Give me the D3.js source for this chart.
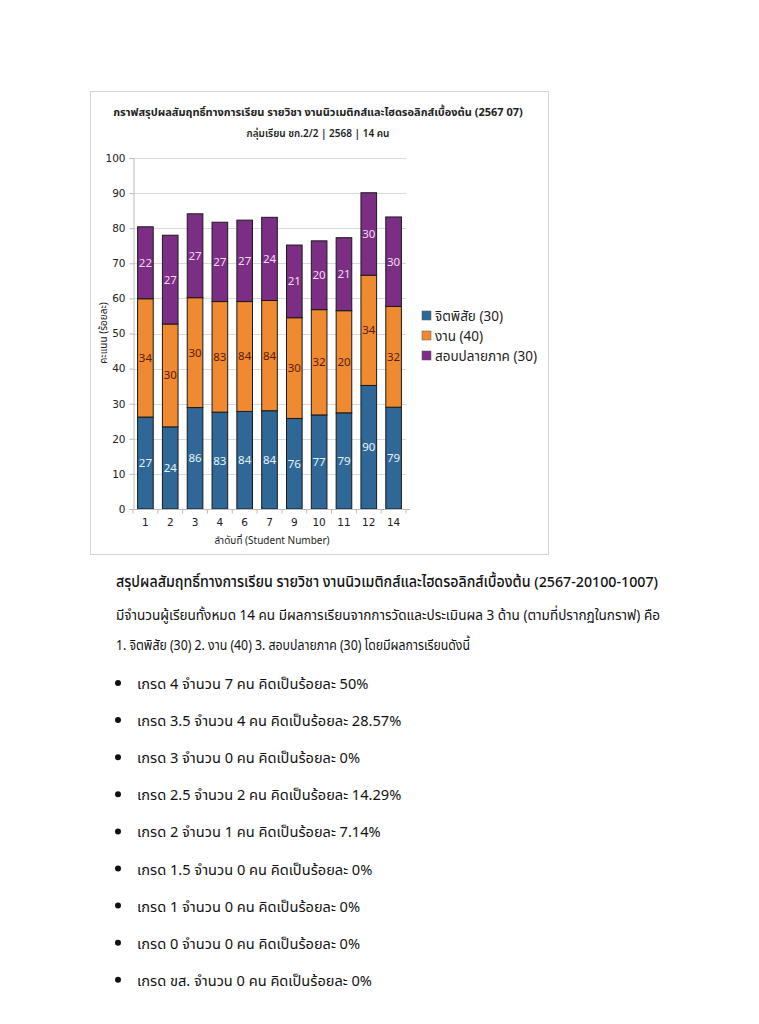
<!DOCTYPE html>
<html><head><meta charset="utf-8">
<script src="https://cdn.jsdelivr.net/npm/d3@7/dist/d3.min.js"></script>
<style>
body{margin:0;background:#fff;font-family:"Noto Sans Thai","Noto Sans","DejaVu Sans",sans-serif;}
svg{display:block;}
</style></head><body>
<svg id="c" width="759" height="1024"></svg>
<script>
const students = ["1","2","3","4","6","7","9","10","11","12","14"];
const seriesNames = ["จิตพิสัย (30)","งาน (40)","สอบปลายภาค (30)"];
const attitude = [26.2,23.4,28.9,27.6,27.8,28.0,25.8,26.8,27.4,35.2,29.0];
const work = [33.7,29.3,31.3,31.5,31.3,31.4,28.7,30.0,29.1,31.4,28.7];
const finalExam = [20.5,25.3,23.9,22.6,23.2,23.7,20.7,19.6,20.8,23.5,25.5];
const attitudeLabels = ["27","24","86","83","84","84","76","77","79","90","79"];
const workLabels = ["34","30","30","83","84","84","30","32","20","34","32"];
const finalLabels = ["22","27","27","27","27","24","21","20","21","30","30"];
const yTicks = [0,10,20,30,40,50,60,70,80,90,100];
const colors = ["#2f6896","#f08a30","#7b2e84"];
const labelColors = ["#e6f4ff","#5a1a08","#f6dcf4"];
const bullets = [
 "เกรด 4 จำนวน 7 คน คิดเป็นร้อยละ 50%",
 "เกรด 3.5 จำนวน 4 คน คิดเป็นร้อยละ 28.57%",
 "เกรด 3 จำนวน 0 คน คิดเป็นร้อยละ 0%",
 "เกรด 2.5 จำนวน 2 คน คิดเป็นร้อยละ 14.29%",
 "เกรด 2 จำนวน 1 คน คิดเป็นร้อยละ 7.14%",
 "เกรด 1.5 จำนวน 0 คน คิดเป็นร้อยละ 0%",
 "เกรด 1 จำนวน 0 คน คิดเป็นร้อยละ 0%",
 "เกรด 0 จำนวน 0 คน คิดเป็นร้อยละ 0%",
 "เกรด ขส. จำนวน 0 คน คิดเป็นร้อยละ 0%"
];

const svg = d3.select("#c");
// frame
svg.append("rect").attr("x",90.5).attr("y",91.5).attr("width",458).attr("height",463)
  .attr("fill","#fff").attr("stroke","#d4d4d4");
svg.append("text").attr("x",318).attr("y",116).attr("text-anchor","middle")
  .attr("font-size",11).attr("font-weight","bold").attr("fill","#222")
  .text("กราฟสรุปผลสัมฤทธิ์ทางการเรียน รายวิชา งานนิวเมติกส์และไฮดรอลิกส์เบื้องต้น (2567 07)");
svg.append("text").attr("x",318).attr("y",137).attr("text-anchor","middle")
  .attr("font-size",10).attr("font-weight",600).attr("fill","#222").text("กลุ่มเรียน ชก.2/2 | 2568 | 14 คน");

const x = d3.scaleBand().domain(students).range([133,406]).paddingInner(0.37).paddingOuter(0.185);
const y = d3.scaleLinear().domain([0,100]).range([509,158]);

const g = svg.append("g");
g.selectAll("line.grid").data(yTicks).join("line")
  .attr("x1",133).attr("x2",406).attr("y1",d=>Math.round(y(d))+0.5).attr("y2",d=>Math.round(y(d))+0.5)
  .attr("stroke","#d9d9d9");

const yAxis = d3.axisLeft(y).tickValues(yTicks).tickSize(4).tickPadding(4);
const ya = svg.append("g").attr("transform","translate(133.5,0)").call(yAxis);
ya.select(".domain").attr("stroke","#bbb");
ya.selectAll(".tick line").attr("stroke","#bbb");
ya.selectAll("text").attr("font-size",10.5).attr("fill","#222").attr("font-family","'DejaVu Sans',sans-serif");

const rows = students.map((s,i)=>({s, v:[attitude[i],work[i],finalExam[i]], l:[attitudeLabels[i],workLabels[i],finalLabels[i]]}));
rows.forEach(r=>{
  let base=0;
  r.v.forEach((v,k)=>{
    const y0=y(base), y1=y(base+v);
    svg.append("rect").attr("x",x(r.s)).attr("y",y1).attr("width",x.bandwidth()).attr("height",y0-y1)
      .attr("fill",colors[k]).attr("stroke","#1a1a1a").attr("stroke-width",1);
    svg.append("text").attr("x",x(r.s)+x.bandwidth()/2).attr("y",(y0+y1)/2+4)
      .attr("text-anchor","middle").attr("font-size",11.5).attr("fill",labelColors[k]).text(r.l[k]);
    base+=v;
  });
});

// x axis
const xa = svg.append("g").attr("transform","translate(0,509.5)");
xa.append("line").attr("x1",133).attr("x2",410).attr("stroke","#bbb");
const bounds = students.map(s=>x(s)-x.step()*x.paddingInner()/2).concat([406]);
xa.selectAll("line.t").data(bounds).join("line").attr("x1",d=>d).attr("x2",d=>d).attr("y1",0).attr("y2",4).attr("stroke","#bbb");
xa.selectAll("text").data(students).join("text").attr("x",d=>x(d)+x.bandwidth()/2).attr("y",16)
  .attr("text-anchor","middle").attr("font-size",10.5).attr("fill","#222").attr("font-family","'DejaVu Sans',sans-serif").text(d=>d);
svg.append("text").attr("x",272).attr("y",544).attr("text-anchor","middle").attr("font-size",10).attr("fill","#222")
  .text("ลำดับที่ (Student Number)");
svg.append("text").attr("transform","translate(107,333) rotate(-90)").attr("text-anchor","middle")
  .attr("font-size",10).attr("fill","#222").text("คะแนน (ร้อยละ)");

// legend
const lg = svg.append("g");
seriesNames.forEach((n,i)=>{
  const yy = 316+i*20;
  lg.append("rect").attr("x",422).attr("y",yy-5).attr("width",9).attr("height",9).attr("fill",colors[i]).attr("stroke","#555").attr("stroke-width",0.5);
  lg.append("text").attr("x",435).attr("y",yy+4.5).attr("font-size",13.5).attr("fill","#222").text(n);
});

// text below
const t = svg.append("g").attr("fill","#111");
t.append("text").attr("x",116).attr("y",587).attr("font-size",15).attr("font-weight",500)
 .attr("textLength",542).attr("lengthAdjust","spacingAndGlyphs")
 .text("สรุปผลสัมฤทธิ์ทางการเรียน รายวิชา งานนิวเมติกส์และไฮดรอลิกส์เบื้องต้น (2567-20100-1007)");
t.append("text").attr("x",116).attr("y",620).attr("font-size",14.5)
 .attr("textLength",544).attr("lengthAdjust","spacingAndGlyphs")
 .text("มีจำนวนผู้เรียนทั้งหมด 14 คน มีผลการเรียนจากการวัดและประเมินผล 3 ด้าน (ตามที่ปรากฏในกราฟ) คือ");
t.append("text").attr("x",116).attr("y",650).attr("font-size",14.5)
 .attr("textLength",354).attr("lengthAdjust","spacingAndGlyphs")
 .text("1. จิตพิสัย (30) 2. งาน (40) 3. สอบปลายภาค (30) โดยมีผลการเรียนดังนี้");
bullets.forEach((b,i)=>{
  const yy = 683 + i*37.1;
  t.append("circle").attr("cx",118).attr("cy",yy).attr("r",3);
  t.append("text").attr("x",137).attr("y",yy+6).attr("font-size",14.6).text(b);
});
</script></body></html>
